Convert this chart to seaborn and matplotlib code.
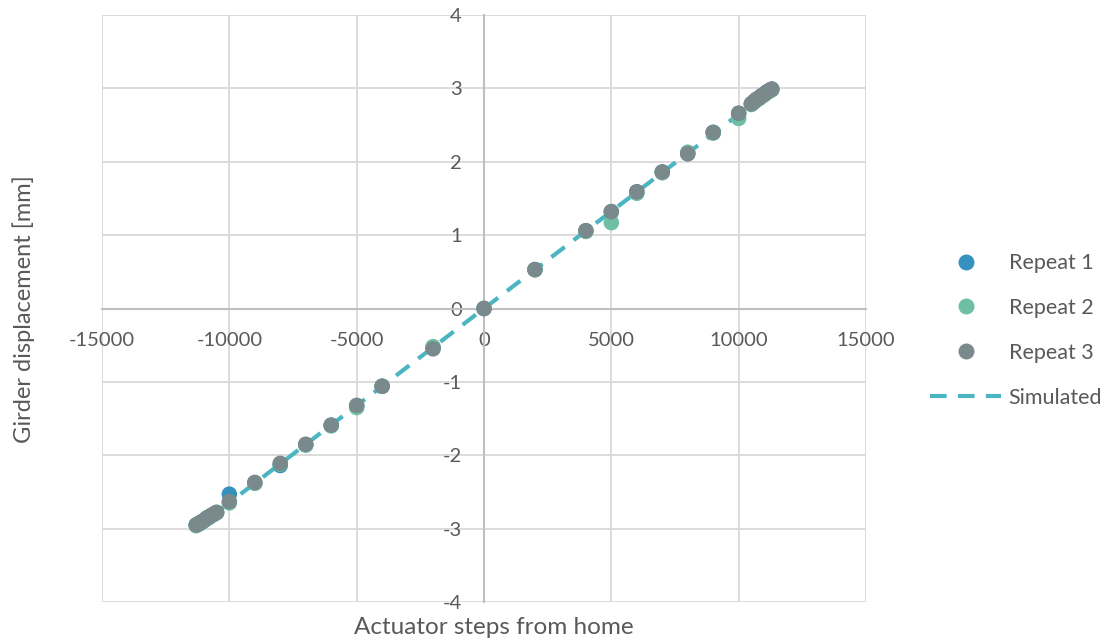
import matplotlib
matplotlib.use("Agg")
import matplotlib.pyplot as plt
import seaborn as sns
import pandas as pd
from matplotlib.lines import Line2D

# actuator steps measured in each repeat
steps = [-11300, -11200, -11100, -11000, -10900, -10800, -10700, -10600, -10500,
         -10000, -9000, -8000, -7000, -6000, -5000, -4000, -2000, 0,
         2000, 4000, 5000, 6000, 7000, 8000, 9000, 10000,
         10500, 10600, 10700, 10800, 10900, 11000, 11100, 11200, 11300]

repeat1 = [-2.95, -2.93, -2.91, -2.89, -2.86, -2.84, -2.82, -2.80, -2.78,
           -2.53, -2.38, -2.14, -1.86, -1.59, -1.33, -1.06, -0.54, 0.0,
           0.53, 1.06, 1.32, 1.59, 1.86, 2.11, 2.40, 2.66,
           2.79, 2.82, 2.85, 2.87, 2.90, 2.92, 2.95, 2.97, 2.99]
repeat2 = [-2.96, -2.94, -2.92, -2.89, -2.87, -2.85, -2.82, -2.80, -2.78,
           -2.65, -2.38, -2.12, -1.86, -1.60, -1.35, -1.06, -0.52, 0.0,
           0.53, 1.05, 1.17, 1.57, 1.85, 2.13, 2.39, 2.59,
           2.78, 2.81, 2.84, 2.86, 2.89, 2.91, 2.94, 2.96, 2.98]
repeat3 = [-2.95, -2.93, -2.91, -2.89, -2.86, -2.84, -2.82, -2.80, -2.78,
           -2.63, -2.37, -2.11, -1.85, -1.59, -1.32, -1.06, -0.55, 0.0,
           0.53, 1.06, 1.32, 1.59, 1.86, 2.11, 2.40, 2.66,
           2.79, 2.82, 2.85, 2.87, 2.90, 2.92, 2.95, 2.97, 2.99]

sim_steps = [-11300, 11300]
sim_disp = [-2.99, 2.99]

series_names = ["Repeat 1", "Repeat 2", "Repeat 3"]
colors = {"Repeat 1": "#3591bd", "Repeat 2": "#6fbfa4", "Repeat 3": "#7a898b"}
sim_color = "#4bb5c1"
text_color = "#595959"

df = pd.DataFrame({
    "steps": steps * 3,
    "disp": repeat1 + repeat2 + repeat3,
    "series": [n for n in series_names for _ in steps],
})
sim_df = pd.DataFrame({"steps": sim_steps, "disp": sim_disp})

sns.set_style("white")
plt.rcParams["font.family"] = ["Lato", "DejaVu Sans"]
plt.rcParams["axes.unicode_minus"] = False

fig = plt.figure(figsize=(11.07, 6.42), dpi=100)
ax = fig.add_axes([102 / 1107, 1 - 602 / 642, 764 / 1107, 587 / 642])

sns.lineplot(data=sim_df, x="steps", y="disp", ax=ax, color=sim_color,
             linewidth=3, zorder=2)
ax.lines[0].set_dashes([4, 2.7])
ax.lines[0].set_dash_capstyle("butt")

sns.scatterplot(data=df, x="steps", y="disp", hue="series", palette=colors,
                s=125, linewidth=0, alpha=1, ax=ax, zorder=3, legend=False)

ax.set_xlim(-15000, 15000)
ax.set_ylim(-4, 4)
ax.set_xticks(range(-15000, 15001, 5000))
ax.set_yticks(range(-4, 5))
ax.grid(True, color="#d9d9d9", linewidth=1.3, zorder=0)
ax.set_axisbelow(True)

for side in ["top", "right"]:
    ax.spines[side].set_visible(False)
ax.spines["left"].set_position(("data", 0))
ax.spines["bottom"].set_position(("data", 0))
ax.spines["left"].set_color("#bfbfbf")
ax.spines["bottom"].set_color("#bfbfbf")
ax.spines["left"].set_linewidth(1.5)
ax.spines["bottom"].set_linewidth(1.5)

ax.tick_params(axis="both", length=0, labelsize=14.5, labelcolor=text_color)
ax.tick_params(axis="x", pad=17)
ax.tick_params(axis="y", pad=16)

ax.set_xlabel("")
ax.set_ylabel("")
fig.text(494 / 1107, 1 - 627 / 642, "Actuator steps from home", ha="center",
         va="center", fontsize=17.5, color=text_color)
fig.text(24 / 1107, 1 - 309 / 642, "Girder displacement [mm]", ha="center",
         va="center", rotation=90, fontsize=17, color=text_color)

handles = [Line2D([], [], linestyle="none", marker="o", markersize=11.5,
                  markerfacecolor=colors[n], markeredgewidth=0) for n in series_names]
handles.append(Line2D([], [], color=sim_color, linewidth=3, dashes=[4, 2.7],
                      dash_capstyle="butt"))
fig.legend(handles, series_names + ["Simulated"], loc="center left",
           bbox_to_anchor=(930 / 1107, 1 - 330.5 / 642), frameon=False,
           fontsize=15.5, labelcolor=text_color, handlelength=3.3,
           handletextpad=0.35, labelspacing=1.16, borderpad=0, borderaxespad=0)

fig.savefig("out.png", dpi=100)
